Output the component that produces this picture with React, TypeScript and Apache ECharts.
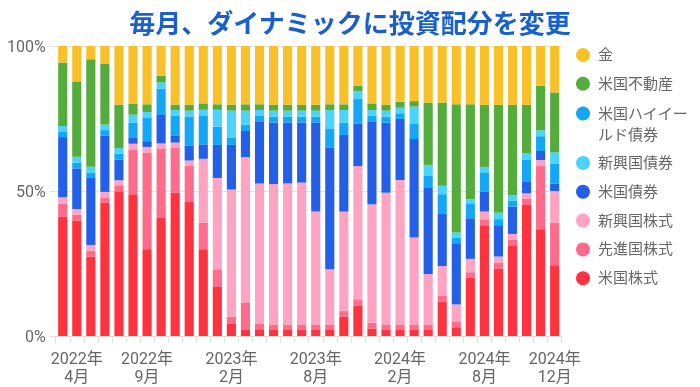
import React, { useEffect, useRef } from "react";
import * as echarts from "echarts";

const tickLabels: string[] = [
  "", "2022年\n4月", "", "", "", "", "2022年\n9月", "", "", "", "", "",
  "2023年\n2月", "", "", "", "", "", "2023年\n8月", "", "", "", "", "",
  "2024年\n2月", "", "", "", "", "", "2024年\n8月", "", "", "", "", "2024年\n12月",
];
const categories: string[] = tickLabels.map((_, i) => `第${i + 1}期`);

const usStock = [41.1, 39.8, 27.4, 45.9, 49.9, 48.9, 29.9, 40.9, 49.5, 46.4, 29.9, 16.9, 4.3, 2.1, 2.1, 2.1, 2.1, 2.1, 2.1, 2.1, 6.6, 10.5, 2.6, 2.1, 2.1, 2.1, 2.1, 11.8, 3.0, 20.1, 37.9, 23.3, 31.1, 45.4, 36.8, 24.4];
const devStock = [4.6, 2.0, 2.0, 1.9, 2.1, 15.4, 33.4, 23.8, 15.4, 12.2, 9.2, 6.1, 2.4, 9.5, 2.2, 1.9, 1.9, 1.9, 1.9, 1.9, 2.0, 1.9, 2.0, 1.9, 1.9, 1.9, 1.9, 2.0, 1.9, 1.9, 2.1, 2.0, 2.0, 2.0, 21.8, 14.7];
const emStock = [2.1, 2.0, 2.0, 1.9, 1.7, 2.0, 1.9, 1.7, 1.8, 1.9, 22.0, 31.5, 43.8, 50.1, 48.3, 48.4, 48.6, 48.9, 38.9, 19.0, 34.3, 46.2, 40.8, 45.4, 49.8, 30.0, 17.4, 10.3, 6.0, 4.6, 2.9, 2.1, 2.1, 1.8, 2.1, 10.9];
const usBond = [20.8, 14.0, 23.1, 19.4, 7.1, 2.2, 2.0, 9.8, 2.5, 5.2, 5.0, 11.4, 15.4, 9.0, 21.2, 21.2, 21.0, 20.7, 30.7, 41.9, 26.4, 14.7, 28.4, 24.2, 21.1, 33.9, 29.9, 18.0, 21.1, 14.0, 6.9, 10.8, 9.4, 3.9, 3.1, 2.5];
const usHighYield = [2.0, 2.0, 1.9, 1.9, 2.0, 5.1, 8.0, 9.1, 6.7, 10.0, 10.0, 6.3, 2.6, 2.1, 2.1, 2.0, 2.0, 2.0, 2.0, 6.5, 4.3, 8.4, 2.1, 2.0, 1.9, 5.4, 3.9, 6.8, 1.9, 4.9, 6.4, 2.1, 2.0, 7.8, 5.1, 6.9];
const emBond = [1.8, 2.0, 2.0, 1.9, 2.0, 2.7, 2.0, 2.1, 2.0, 2.0, 1.9, 5.8, 9.2, 4.9, 2.0, 2.1, 2.1, 2.1, 2.1, 6.5, 4.3, 2.7, 2.0, 2.1, 1.9, 5.8, 3.8, 2.9, 1.8, 1.7, 2.1, 2.2, 2.0, 2.1, 2.0, 3.9];
const usReit = [21.9, 26.0, 37.0, 20.9, 15.0, 3.8, 2.7, 2.4, 1.9, 2.0, 2.2, 1.9, 2.0, 2.2, 2.0, 2.0, 2.0, 2.0, 2.0, 2.0, 2.0, 1.9, 2.3, 2.0, 2.1, 1.9, 21.5, 28.7, 44.2, 32.7, 21.4, 37.2, 31.1, 16.7, 15.4, 20.7];
const gold = [5.7, 12.2, 4.6, 6.2, 20.2, 19.9, 20.1, 10.2, 20.2, 20.3, 19.8, 20.1, 20.3, 20.1, 20.1, 20.3, 20.3, 20.3, 20.3, 20.1, 20.1, 13.7, 19.8, 20.3, 19.2, 19.0, 19.5, 19.5, 20.1, 20.1, 20.3, 20.3, 20.3, 20.3, 13.7, 16.0];

const yTicks = [0, 50, 100];

const seriesDefs = [
  { name: "米国株式", data: usStock, color: "#ff333f" },
  { name: "先進国株式", data: devStock, color: "#ff6b8a" },
  { name: "新興国株式", data: emStock, color: "#ffa3c3" },
  { name: "米国債券", data: usBond, color: "#245fe7" },
  { name: "米国ハイイールド債券", data: usHighYield, color: "#13a7f5" },
  { name: "新興国債券", data: emBond, color: "#4bd3fb" },
  { name: "米国不動産", data: usReit, color: "#53ac3b" },
  { name: "金", data: gold, color: "#f8c12a" },
];

const legendA = ["金", "米国不動産"];
const legendB = ["米国ハイイールド債券"];
const legendC = ["新興国債券", "米国債券", "新興国株式", "先進国株式", "米国株式"];

const FONT = 'Roboto, "Noto Sans CJK JP", sans-serif';

export default function App() {
  const ref = useRef<HTMLDivElement>(null);
  useEffect(() => {
    if (!ref.current) return;
    const chart = echarts.init(ref.current, undefined, { renderer: "svg" });
    const legendBase = {
      orient: "vertical" as const,
      left: 576,
      padding: 0,
      itemWidth: 20,
      itemHeight: 14,
      itemGap: 7.8,
      icon: "circle",
      selectedMode: false,
      textStyle: { fontSize: 15, lineHeight: 21, color: "#666", fontFamily: FONT },
    };
    chart.setOption({
      animation: false,
      color: seriesDefs.map((s) => s.color),
      title: {
        text: "毎月、ダイナミックに投資配分を変更",
        left: "center",
        top: 3,
        textStyle: { fontSize: 26, fontWeight: "bold", color: "#1a60cc", fontFamily: '"Noto Sans CJK JP", sans-serif' },
      },
      legend: [
        { ...legendBase, top: 44.5, data: legendA },
        {
          ...legendBase,
          top: 82,
          data: legendB,
          formatter: (n: string) => (n === "米国ハイイールド債券" ? "\n米国ハイイー\nルド債券" : n),
        },
        { ...legendBase, top: 152.5, data: legendC },
      ],
      grid: { left: 55.7, right: 138.3, top: 46, bottom: 51, containLabel: false, outerBoundsMode: "none" },
      xAxis: {
        type: "category",
        data: categories,
        axisLine: { lineStyle: { color: "#d9d9d9" } },
        axisTick: { show: true, interval: 0, length: 7, lineStyle: { color: "#e0e0e0" } },
        axisLabel: {
          interval: 0,
          margin: 13,
          fontSize: 16,
          lineHeight: 18,
          color: "#666",
          fontFamily: FONT,
          formatter: (_v: string, i: number) => tickLabels[i],
        },
      },
      yAxis: {
        type: "value",
        min: yTicks[0],
        max: yTicks[yTicks.length - 1],
        interval: 50,
        axisLine: { show: false },
        axisTick: { show: true, length: 6, lineStyle: { color: "#e0e0e0" } },
        splitLine: { lineStyle: { color: "#e0e0e0" } },
        axisLabel: { formatter: "{value}%", fontSize: 16, color: "#666", margin: 10, fontFamily: FONT },
      },
      series: seriesDefs.map((s) => ({
        name: s.name,
        type: "bar",
        stack: "total",
        data: s.data,
        barWidth: "65%",
        itemStyle: { color: s.color },
      })),
    });
    return () => chart.dispose();
  }, []);
  return <div ref={ref} style={{ position: "fixed", left: 0, top: 0, width: 700, height: 387 }} />;
}
